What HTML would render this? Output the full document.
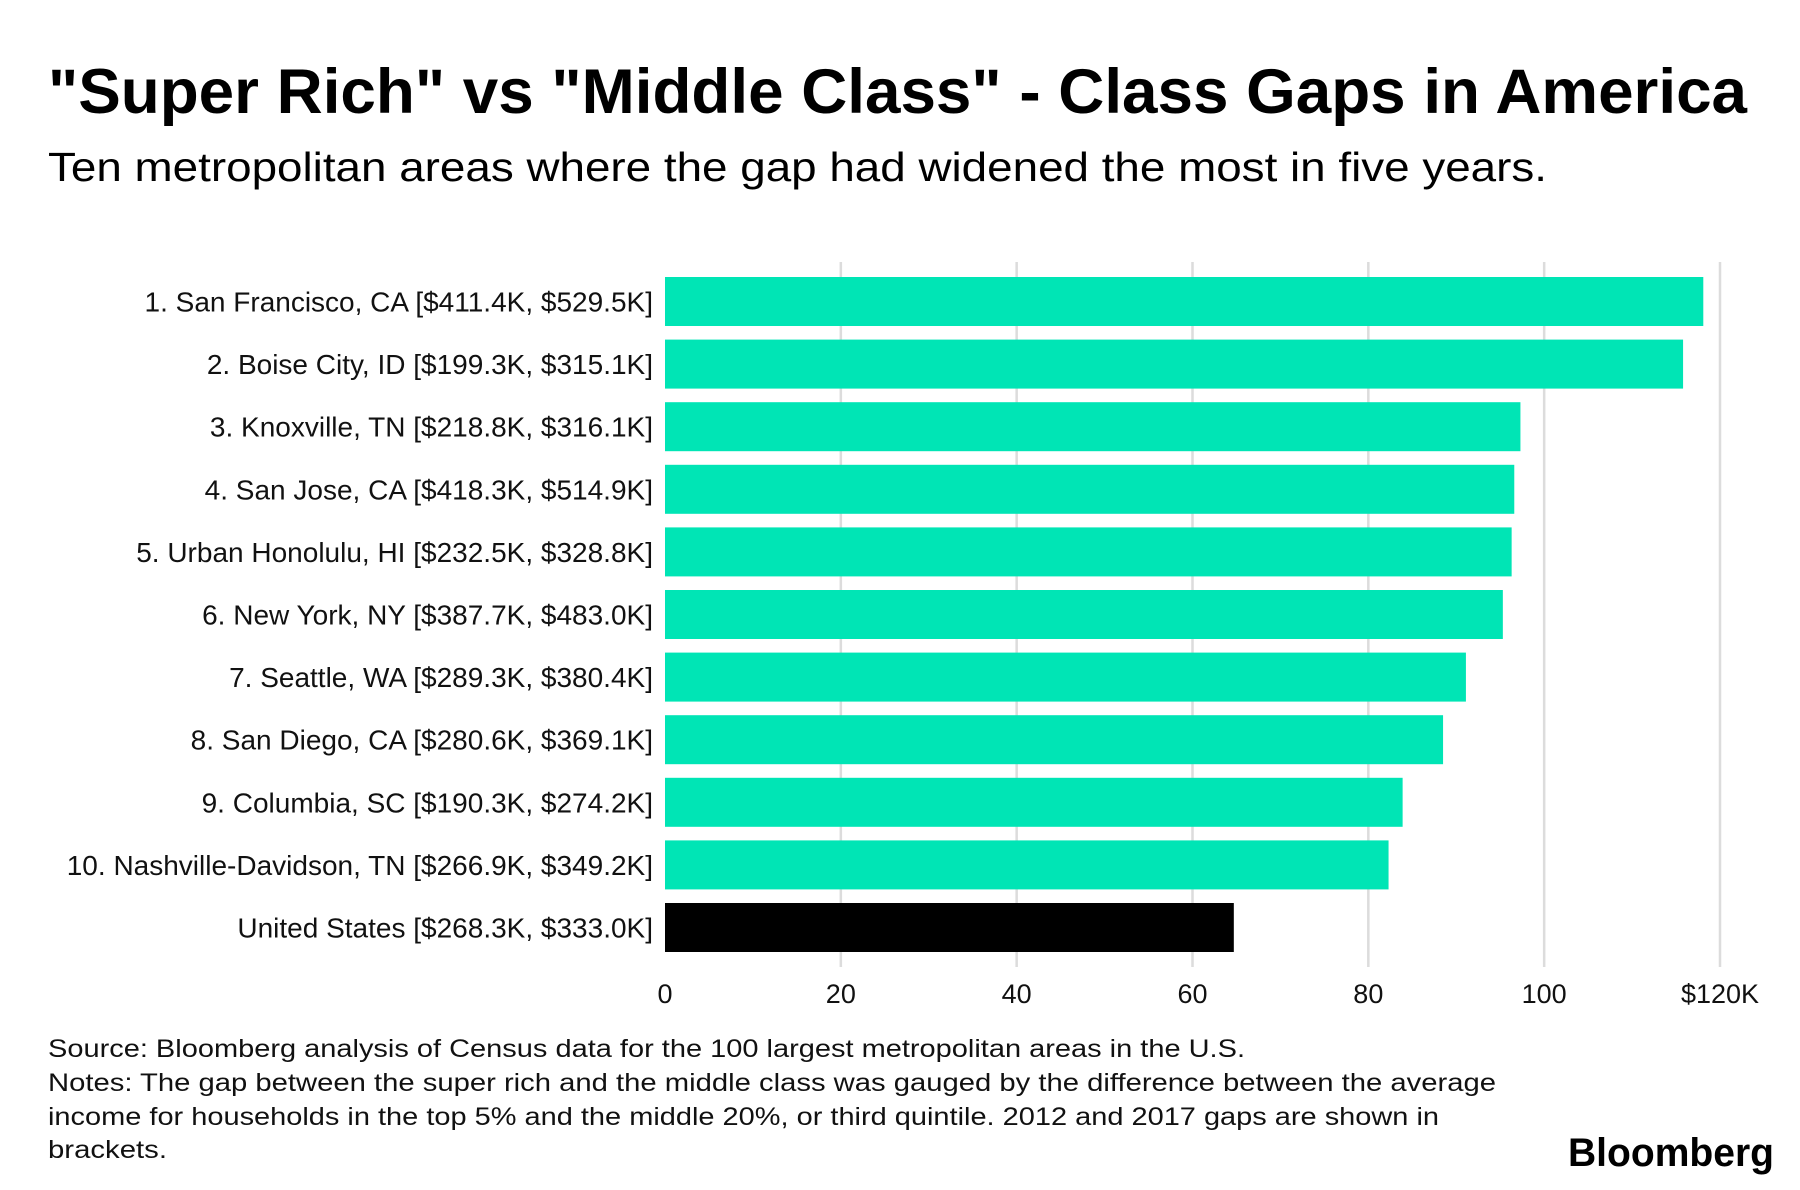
<!DOCTYPE html>
<html><head><meta charset="utf-8"><style>
html,body{margin:0;padding:0;background:#fff;}
svg{display:block;font-family:"Liberation Sans",Arial,sans-serif;}
</style></head><body>
<svg id="chart" width="1800" height="1190" viewBox="0 0 1800 1190">
<text x="48" y="113" font-size="63" font-weight="bold" textLength="1699" lengthAdjust="spacingAndGlyphs">"Super Rich" vs "Middle Class" - Class Gaps in America</text>
<text x="48" y="181" font-size="41" textLength="1499" lengthAdjust="spacingAndGlyphs">Ten metropolitan areas where the gap had widened the most in five years.</text>
<g id="grid"></g><g id="bars"></g><g id="labels"></g><g id="ticks"></g>
<g font-size="25" fill="#111">
<text x="48" y="1057" textLength="1197" lengthAdjust="spacingAndGlyphs">Source: Bloomberg analysis of Census data for the 100 largest metropolitan areas in the U.S.</text>
<text x="48" y="1091" textLength="1448" lengthAdjust="spacingAndGlyphs">Notes: The gap between the super rich and the middle class was gauged by the difference between the average</text>
<text x="48" y="1125" textLength="1391" lengthAdjust="spacingAndGlyphs">income for households in the top 5% and the middle 20%, or third quintile. 2012 and 2017 gaps are shown in</text>
<text x="48" y="1158" textLength="119" lengthAdjust="spacingAndGlyphs">brackets.</text>
</g>
<text x="1774" y="1166" text-anchor="end" font-size="40" font-weight="bold" textLength="206" lengthAdjust="spacingAndGlyphs">Bloomberg</text>
</svg>
<script>
const categories = ["1. San Francisco, CA [$411.4K, $529.5K]","2. Boise City, ID [$199.3K, $315.1K]","3. Knoxville, TN [$218.8K, $316.1K]","4. San Jose, CA [$418.3K, $514.9K]","5. Urban Honolulu, HI [$232.5K, $328.8K]","6. New York, NY [$387.7K, $483.0K]","7. Seattle, WA [$289.3K, $380.4K]","8. San Diego, CA [$280.6K, $369.1K]","9. Columbia, SC [$190.3K, $274.2K]","10. Nashville-Davidson, TN [$266.9K, $349.2K]","United States [$268.3K, $333.0K]"];
const values = [118.1,115.8,97.3,96.6,96.3,95.3,91.1,88.5,83.9,82.3,64.7];
const tickValues = [0,20,40,60,80,100,120];
const tickLabels = ["0","20","40","60","80","100","$120K"];
const NS="http://www.w3.org/2000/svg";
const x0=665,x1=1720,top0=277,pitch=62.6,bh=49;
function xs(v){return x0+(v-0)/(120-0)*(x1-x0);}
function ys(i){return top0+i*pitch;}
function mk(t,a,p){const e=document.createElementNS(NS,t);for(const k in a)e.setAttribute(k,a[k]);p.appendChild(e);return e;}
const grid=document.getElementById('grid'),bars=document.getElementById('bars'),labels=document.getElementById('labels'),ticks=document.getElementById('ticks');
tickValues.forEach((v,i)=>{
 if(v>0){const l=mk('line',{x1:xs(v),x2:xs(v),y1:262,y2:967,stroke:'#dcdcdc','stroke-width':2.5},grid);
 
 }
 const t=mk('text',{x:xs(v),y:1003,'text-anchor':'middle','font-size':27,fill:'#111'},ticks);
 t.textContent=tickLabels[i];
 
 
});
categories.forEach((c,i)=>{
 const last=i===categories.length-1;
 const r=mk('rect',{x:xs(0),y:ys(i),width:xs(values[i])-xs(0),height:bh,fill:last?'#000':'#00e5b5'},bars);
 
 
 const t=mk('text',{x:653,y:ys(i)+bh/2+10,'text-anchor':'end','font-size':28,fill:'#111'},labels);
 t.textContent=c;
 
 
});
</script>
</body></html>
